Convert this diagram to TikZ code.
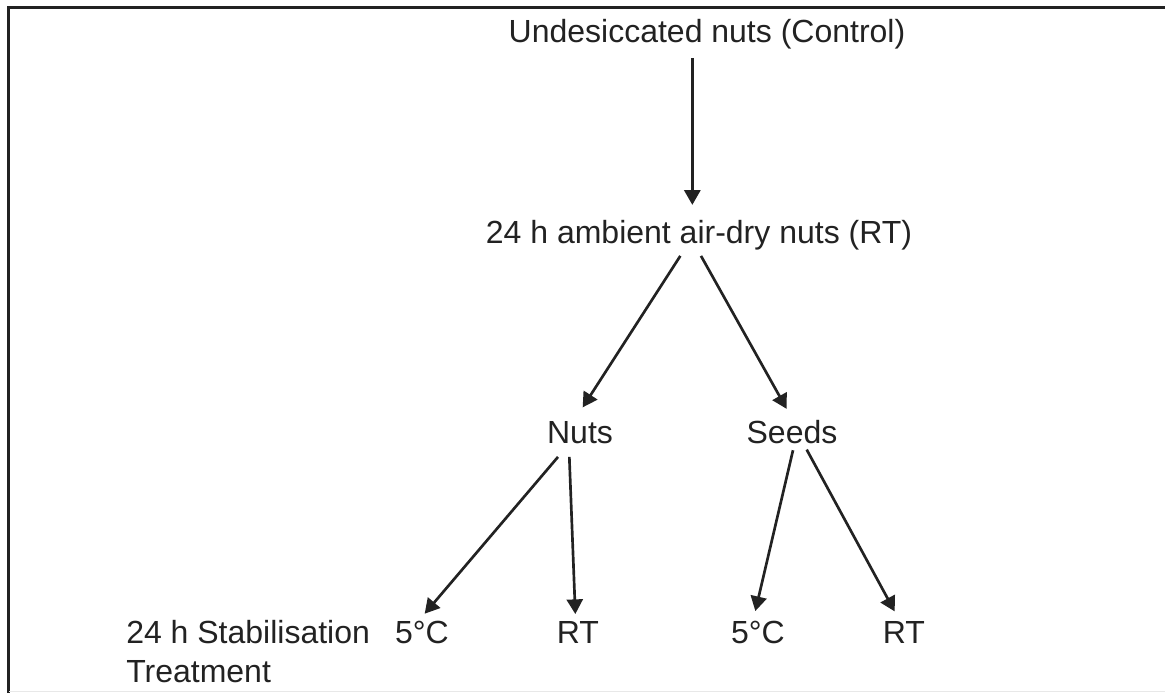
\documentclass[tikz,border=0pt]{standalone}
\usepackage{fontspec}
\setmainfont{Liberation Sans}
\usetikzlibrary{arrows.meta}
\definecolor{txtgray}{HTML}{222222}
\definecolor{framegray}{HTML}{E8E8E8}
\tikzset{
  lbl/.style={inner sep=0pt, anchor=base, text=txtgray, font=\fontsize{24}{29}\selectfont},
  arr/.style={line width=2pt, draw=txtgray, -{Triangle[length=11pt,width=12pt]}},
}
\begin{document}
\begin{tikzpicture}[x=0.75pt,y=-0.75pt]
  \useasboundingbox (0,0) rectangle (1165,693);
  % frame
  \draw[line width=2.25pt, txtgray] (8,693) -- (8,7) -- (1165,7);
  \draw[line width=1pt, framegray] (9,691.5) -- (1165,691.5);
  % labels
  \node[lbl] (ctrl) at (707,42) {Undesiccated nuts (Control)};
  \node[lbl] (amb) at (699,243) {24 h ambient air-dry nuts (RT)};
  \node[lbl] (nuts) at (580,443) {Nuts};
  \node[lbl] (seeds) at (792,443) {Seeds};
  \node[lbl] (nc) at (422,643) {5°C};
  \node[lbl] (nr) at (578,643) {RT};
  \node[lbl] (sc) at (758,643) {5°C};
  \node[lbl] (sr) at (904,643) {RT};
  \node[lbl, anchor=base west, align=left] (stab) at (126,682) {24 h Stabilisation\\Treatment};
  % arrows
  \draw[arr] ([xshift=-11pt,yshift=-6.75pt]ctrl.south) -- ([xshift=-5pt,yshift=11pt]amb.north);
  \draw[arr] ([xshift=-14pt,yshift=-4.5pt]amb.south) -- ([xshift=2pt,yshift=10pt]nuts.north);
  \draw[arr] ([xshift=1.5pt,yshift=-4.5pt]amb.south) -- ([xshift=-4pt,yshift=8pt]seeds.north);
  \draw[arr] ([xshift=-16.5pt,yshift=-10pt]nuts.south) -- ([xshift=2pt,yshift=5pt]nc.north);
  \draw[arr] ([xshift=-8pt,yshift=-10pt]nuts.south) -- ([xshift=-2pt,yshift=5pt]nr.north);
  \draw[arr] ([xshift=0.75pt,yshift=-5pt]seeds.south) -- ([xshift=-2pt,yshift=7pt]sc.north);
  \draw[arr] ([xshift=11pt,yshift=-4.5pt]seeds.south) -- ([xshift=-7pt,yshift=7pt]sr.north);
\end{tikzpicture}
\end{document}
